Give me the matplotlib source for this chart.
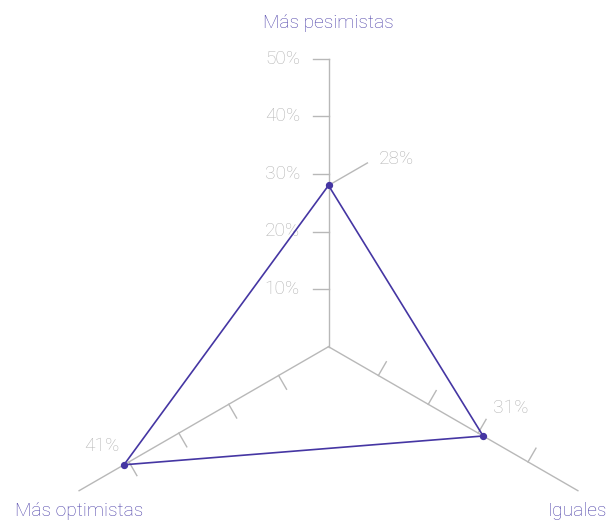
import numpy as np
import matplotlib.pyplot as plt

# encuesta: expectativas para el próximo año
categorias = ['Más pesimistas', 'Iguales', 'Más optimistas']
valores = [28, 31, 41]
angulos = [90, -30, 210]          # grados, un eje cada 120°
ticks_eje = [[10, 20, 30, 40, 50], [10, 20, 30, 40], [10, 20, 30, 40]]
etiquetas_ticks = ['10%', '20%', '30%', '40%', '50%']
r_max = 50

morado = '#4536a3'
morado_txt = '#4b3fa8'
gris = '#b8b8b8'
gris_txt = '#b4b4b4'

plt.rcParams['font.family'] = ['Roboto', 'DejaVu Sans']

fig = plt.figure(figsize=(6.08, 5.23), dpi=100)
ax = fig.add_axes([0, 0, 1, 1])
escala = 5.76  # px por punto porcentual
cx, cy = 328.5, 346.7
ax.set_xlim(-cx / escala, (608 - cx) / escala)
ax.set_ylim(-(523 - cy) / escala, cy / escala)
ax.axis('off')

th = np.deg2rad(angulos)
ux, uy = np.cos(th), np.sin(th)
largo_tick = 2.75
fs = 13.8

# ejes y marcas
for i in range(3):
    ax.plot([0, r_max * ux[i]], [0, r_max * uy[i]], color=gris, lw=1.0, zorder=1)
    px, py = np.cos(th[i] + np.pi / 2), np.sin(th[i] + np.pi / 2)
    for t in ticks_eje[i]:
        x0, y0 = t * ux[i], t * uy[i]
        ax.plot([x0, x0 + largo_tick * px], [y0, y0 + largo_tick * py],
                color=gris, lw=1.0, zorder=1)

# etiquetas del eje vertical
for t, lab in zip(ticks_eje[0], etiquetas_ticks):
    ax.text(-4.95, t, lab, ha='right', va='center', fontsize=fs,
            color=gris_txt, fontweight='light')

# triángulo de valores
xs = np.array(valores) * ux
ys = np.array(valores) * uy
ax.plot(np.append(xs, xs[0]), np.append(ys, ys[0]), color=morado, lw=1.2, zorder=3)
ax.scatter(xs, ys, s=18, color=morado, zorder=4)

# línea guía del primer valor
ang_guia = np.deg2rad(30)
lg = 7.8
ax.plot([xs[0], xs[0] + lg * np.cos(ang_guia)], [ys[0], ys[0] + lg * np.sin(ang_guia)],
        color=gris, lw=1.0, zorder=2)

off_valores = [(50, 26, 'left'), (10, 28, 'left'), (-4, 19, 'right')]
for x, y, v, (dx, dy, ha) in zip(xs, ys, valores, off_valores):
    ax.annotate(f'{v}%', (x, y), xytext=(dx, dy), textcoords='offset pixels',
                ha=ha, va='center', fontsize=fs, color=gris_txt, fontweight='light')

# nombres de los ejes
off_cat = [31, -25, -25]
for i, cat in enumerate(categorias):
    ax.annotate(cat, (r_max * ux[i], r_max * uy[i]), xytext=(0, off_cat[i]),
                textcoords='offset pixels', ha='center', va='baseline',
                fontsize=fs, color=morado_txt, fontweight='light')

fig.savefig('out.png', dpi=100)
